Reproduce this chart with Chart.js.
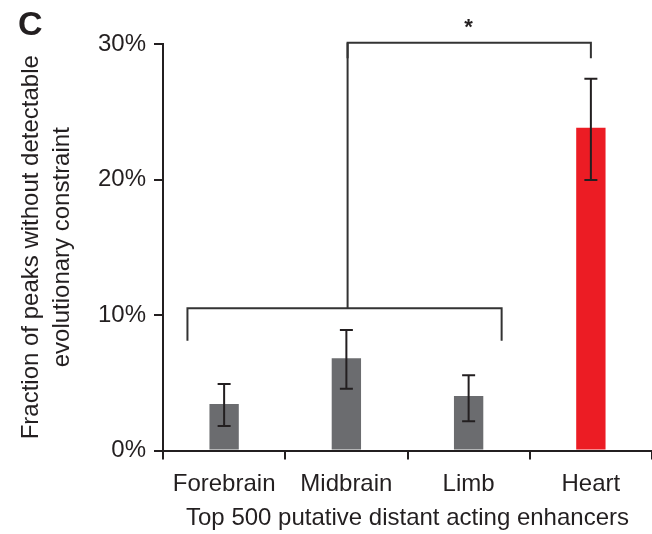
<!DOCTYPE html>
<html>
<head>
<meta charset="utf-8">
<script src="https://cdn.jsdelivr.net/npm/chart.js@4"></script>
<style>
  body { margin: 0; background: #fff; }
  #wrap { width: 652px; height: 534px; position: relative; }
</style>
</head>
<body>
<div id="wrap"><canvas id="chart"></canvas></div>
<script>
// --- DATA ---
const categories = ['Forebrain', 'Midbrain', 'Limb', 'Heart'];
const fractions = [3.43, 6.80, 4.02, 23.82];        // % of peaks
const errLow = [1.81, 4.56, 2.15, 19.96];
const errHigh = [4.91, 8.89, 5.55, 27.44];
const barColors = ['#6b6c6f', '#6b6c6f', '#6b6c6f', '#ec1c24'];
const yTicks = [0, 10, 20, 30];

// significance brackets, in category index / % units
const lowBracket = { from: -0.3, to: 2.27, y: 10.5, leg: 8.1 };
const highBracket = { from: 1.01, to: 3.0, y: 30.1, leg: 28.95 };
const starMark = { x: 2.0, y: 31.5, text: '*' };

const FONT = "'Liberation Sans', Arial, sans-serif";
const INK = '#231f20';

// --- OVERLAY: error bars, brackets, panel letter ---
const overlay = {
  id: 'overlay',
  afterDatasetsDraw(chart) {
    const { ctx, scales: { x, y } } = chart;
    ctx.save();
    ctx.strokeStyle = INK;
    ctx.lineWidth = 2;

    // error bars
    categories.forEach((c, i) => {
      const px = x.getPixelForValue(i);
      const top = y.getPixelForValue(errHigh[i]);
      const bot = y.getPixelForValue(errLow[i]);
      ctx.beginPath();
      ctx.moveTo(px, top); ctx.lineTo(px, bot);
      ctx.moveTo(px - 6.5, top); ctx.lineTo(px + 6.5, top);
      ctx.moveTo(px - 6.5, bot); ctx.lineTo(px + 6.5, bot);
      ctx.stroke();
    });

    // brackets
    ctx.strokeStyle = '#333';
    [lowBracket, highBracket].forEach(b => {
      const x1 = x.getPixelForValue(b.from);
      const x2 = x.getPixelForValue(b.to);
      const yy = y.getPixelForValue(b.y);
      const yl = y.getPixelForValue(b.leg);
      ctx.beginPath();
      ctx.moveTo(x1, yl); ctx.lineTo(x1, yy); ctx.lineTo(x2, yy); ctx.lineTo(x2, yl);
      ctx.stroke();
    });
    // stem joining the two brackets
    ctx.beginPath();
    ctx.moveTo(x.getPixelForValue(highBracket.from), y.getPixelForValue(lowBracket.y));
    ctx.lineTo(x.getPixelForValue(highBracket.from), y.getPixelForValue(highBracket.y));
    ctx.stroke();

    ctx.fillStyle = INK;
    ctx.textAlign = 'center';
    ctx.textBaseline = 'middle';
    ctx.font = 'bold 22px ' + FONT;
    ctx.fillText(starMark.text, x.getPixelForValue(starMark.x), y.getPixelForValue(starMark.y) + 4);

    // panel letter
    ctx.font = 'bold 34px ' + FONT;
    ctx.textAlign = 'left';
    ctx.textBaseline = 'alphabetic';
    ctx.fillText('C', 18, 35);
    ctx.restore();
  }
};

new Chart(document.getElementById('chart'), {
  type: 'bar',
  data: {
    labels: categories,
    datasets: [{
      data: fractions,
      backgroundColor: barColors,
      borderWidth: 0,
      barPercentage: 0.24,
      categoryPercentage: 1
    }]
  },
  options: {
    responsive: true,
    maintainAspectRatio: false,
    animation: false,
    layout: { padding: { top: 44, right: 0, bottom: 0, left: 0 } },
    plugins: { legend: { display: false }, tooltip: { enabled: false } },
    scales: {
      x: {
        grid: { drawOnChartArea: false, drawTicks: true, tickLength: 9, color: INK, lineWidth: 2, offset: true },
        border: { display: true, color: INK, width: 2 },
        ticks: { color: INK, padding: 10, font: { family: FONT, size: 24 } },
        title: {
          display: true, text: 'Top 500 putative distant acting enhancers', color: INK,
          font: { family: FONT, size: 24 }, padding: { top: 0, bottom: 1 }
        },
        afterFit(scale) { scale.height = 83.5; }
      },
      y: {
        min: 0, max: 30,
        afterBuildTicks(scale) { scale.ticks = yTicks.map(v => ({ value: v })); },
        grid: { drawOnChartArea: false, drawTicks: true, tickLength: 9, color: INK, lineWidth: 2 },
        border: { display: true, color: INK, width: 2 },
        ticks: { color: INK, padding: 8, font: { family: FONT, size: 24 }, callback: v => v + '%' },
        title: {
          display: true, text: ['Fraction of peaks without detectable', 'evolutionary constraint'], color: INK,
          font: { family: FONT, size: 24, lineHeight: 1.3 }, padding: { top: 16, bottom: 0 }
        },
        afterFit(scale) { scale.width = 163; }
      }
    }
  },
  plugins: [overlay]
});
</script>
</body>
</html>
